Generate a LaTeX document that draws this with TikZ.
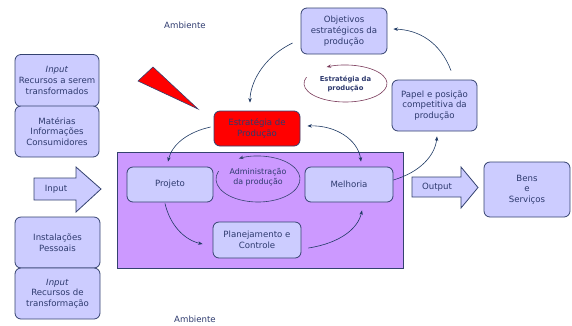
\documentclass[tikz,border=0pt]{standalone}
\usepackage{fontspec}
\setmainfont{DejaVu Sans}
\usetikzlibrary{arrows.meta,calc}
\definecolor{ink}{HTML}{2E3A6E}
\definecolor{edge}{HTML}{34426F}
\definecolor{lav}{HTML}{CCCCFF}
\definecolor{violetbg}{HTML}{CC99FF}
\definecolor{maroonline}{HTML}{7A3A5A}
\definecolor{wire}{HTML}{1F3A64}
\begin{document}
\begin{tikzpicture}[x=1pt,y=-1pt,
  every node/.style={font=\fontsize{8.6}{10.8}\selectfont, text=ink, align=center, inner sep=0pt},
  box/.style={draw=edge, fill=lav, rounded corners=6pt, line width=0.8pt},
  bigarrow/.style={draw=edge, fill=lav, line width=0.8pt, line join=miter},
  link/.style={draw=wire, line width=0.6pt, -{Stealth[length=4.5pt,width=3.5pt]}},
  biglink/.style={draw=wire, line width=0.6pt, {Stealth[length=4.5pt,width=3.5pt]}-{Stealth[length=4.5pt,width=3.5pt]}},
  small/.style={font=\fontsize{7.9}{9.8}\selectfont}]

\useasboundingbox (0,0) rectangle (572,325);

% transformation area
\draw[draw=edge, fill=violetbg, line width=0.8pt] (117,152) rectangle (403,268);

% input resources
\node[box, minimum width=84pt, minimum height=52pt] (inT) at (57,80.5) {\textit{Input}\\Recursos a serem\\transformados};
\node[box, minimum width=84pt, minimum height=51pt] (mat) at (57,131.5) {Matérias\\Informações\\Consumidores};
\node[box, minimum width=85pt, minimum height=51pt] (ins) at (57.5,242.5) {Instalações\\Pessoais};
\node[box, minimum width=85pt, minimum height=51pt] (inR) at (57.5,293.5) {\textit{Input}\\Recursos de\\transformação};

% input / output block arrows
\draw[bigarrow] (34,178) -- (76,178) -- (76,167) -- (101,189) -- (76,212) -- (76,200) -- (34,200) -- cycle;
\node (input) at (56,189) {Input};
\draw[bigarrow] (412,177) -- (461,177) -- (461,167) -- (478,187.5) -- (461,208) -- (461,197) -- (412,197) -- cycle;
\node (output) at (437,187) {Output};

\node[box, minimum width=86pt, minimum height=55pt] (bens) at (527,189.5) {Bens\\e\\Serviços};

% environment labels
\node (amb1) at (185,25) {Ambiente};
\node (amb2) at (195,319) {Ambiente};

% strategy pointer
\draw[draw=edge, fill=red, line width=0.6pt] (138,81) -- (153,67) -- (198,109) -- cycle;

% strategy boxes
\node[box, fill=red, minimum width=86pt, minimum height=35pt] (est) at (257,128.5) {Estratégia de\\Produção};
\node[box, minimum width=86pt, minimum height=46pt] (obj) at (344,31) {Objetivos\\estratégicos da\\produção};
\node[box, minimum width=85pt, minimum height=51pt] (pap) at (434.5,105.5) {Papel e posição\\competitiva da\\produção};

% activities
\node[box, minimum width=86pt, minimum height=35pt] (proj) at (170,184.5) {Projeto};
\node[box, minimum width=88pt, minimum height=35pt] (mel) at (349,184.5) {Melhoria};
\node[box, minimum width=88pt, minimum height=36pt] (plan) at (257,240) {Planejamento e\\Controle};

% circular labels
\node[small] (adm) at (258,177) {Administração\\da produção};
\draw[link, draw=edge] ($(adm)+(200:42 and 23)$) ++(0,2)
  arc[start angle=200, end angle=-117, x radius=42, y radius=23];
\node[font=\bfseries\fontsize{6.8}{9}\selectfont] (estp) at (345.5,83.5) {Estratégia da\\produção};
\draw[link, draw=maroonline] ($(estp)+(200:41.5 and 18.5)$)
  arc[start angle=200, end angle=-117, x radius=41.5, y radius=18.5];

% connectors
\draw[link] ($(obj.west)+(-8,12)$) .. controls +(-31,15) and +(0,-18) .. ($(est.north)+(-7,-8)$);
\draw[link] ($(pap.north)+(16.5,-9)$) .. controls +(-11,-29) and +(25,1) .. ($(obj.east)+(6,-2)$);
\draw[link] ($(mel.east)+(0,-4.5)$) .. controls +(27,-8) and +(-2,19) .. ($(pap.south)+(2.5,5)$);
\draw[biglink] ($(est.east)+(7,-2.5)$) .. controls +(28,-1) and +(-3,-22) .. ($(mel.north)+(12,-5)$);
\draw[link] ($(est.west)+(-3,-1.5)$) .. controls +(-23,5) and +(4,-17) .. ($(proj.north)+(-2,-5)$);
\draw[link] ($(proj.south)+(-5,1)$) .. controls +(5,22) and +(-18,-4) .. ($(plan.west)+(-10,4)$);
\draw[link] ($(plan.east)+(7,8)$) .. controls +(32,-5) and +(-4,18) .. ($(mel.south)+(13,8)$);

\end{tikzpicture}
\end{document}
